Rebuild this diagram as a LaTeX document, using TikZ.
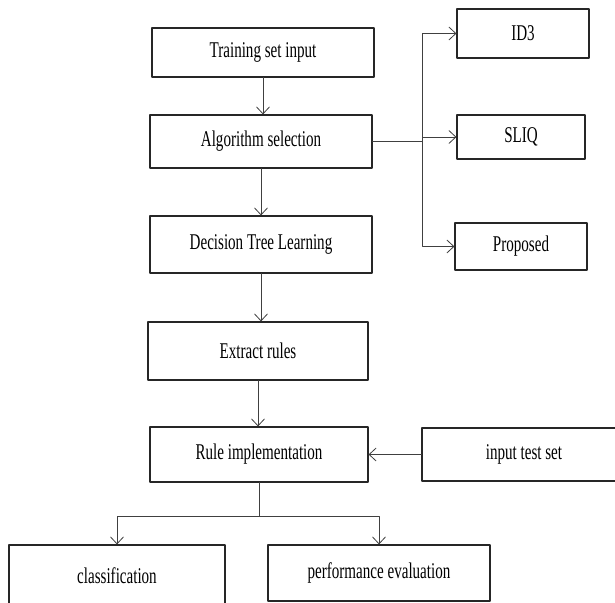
\documentclass[tikz,border=0pt]{standalone}
\usepackage{fontspec}
\setmainfont{Liberation Serif}
\usepackage{graphicx}
\usetikzlibrary{arrows.meta}
\newcommand{\narrow}[1]{\scalebox{0.67}[1]{#1}}

\begin{document}
\begin{tikzpicture}[line cap=round,line join=round,>={Straight Barb[length=7pt,width=13pt]},x=1pt,y=-1pt,
  stage/.style={draw=black!85,line width=1.1pt,rectangle,inner sep=0pt,font=\fontsize{22.5}{24}\selectfont},
  link/.style={draw=black!75,line width=0.8pt},
  flow/.style={link,->}]
\useasboundingbox (0,0) rectangle (615,602);
\clip (0,0) rectangle (615,602);
\node[stage,minimum width=222pt,minimum height=49pt] (train) at (263,52.5) {\narrow{Training set input}};
\node[stage,minimum width=222pt,minimum height=53pt] (algo) at (261,141.5) {\narrow{Algorithm selection}};
\node[stage,minimum width=222pt,minimum height=57pt] (dtl) at (261,244.5) {\narrow{Decision Tree Learning}};
\node[stage,minimum width=220pt,minimum height=58pt] (extract) at (258,351) {\narrow{Extract rules}};
\node[stage,minimum width=218pt,minimum height=55pt] (rule) at (259,454.5) {\narrow{Rule implementation}};
\node[stage,minimum width=204pt,minimum height=53pt] (testset) at (524,454.5) {\narrow{input test set}};
\node[stage,minimum width=132pt,minimum height=49pt] (id3) at (523,33.5) {\narrow{ID3}};
\node[stage,minimum width=128pt,minimum height=44pt] (sliq) at (521,137) {\narrow{SLIQ}};
\node[stage,minimum width=132pt,minimum height=47pt] (proposed) at (521,246.5) {\narrow{Proposed}};
\node[stage,minimum width=216pt,minimum height=61pt] (classif) at (117,575.5) {\narrow{classification}};
\node[stage,minimum width=222pt,minimum height=56pt] (perf) at (379,573) {\narrow{performance evaluation}};
\coordinate (fork) at (422,141.5);
\coordinate (split) at (259,516);
\draw[flow] (train.south) -- (train.south |- algo.north);
\draw[flow] (algo.south) -- (algo.south |- dtl.north);
\draw[flow] (dtl.south) -- (dtl.south |- extract.north);
\draw[flow] (extract.south) -- (extract.south |- rule.north);
\draw[link] (algo.east) -- (fork);
\draw[flow] (fork) |- (id3.west);
\draw[flow] (fork) |- (sliq.west);
\draw[flow] (fork) |- (proposed.west);
\draw[flow] (testset.west) -- (testset.west -| rule.east);
\draw[link] (rule.south) -- (split);
\draw[flow] (split) -| (classif.north);
\draw[flow] (split) -| (perf.north);
\end{tikzpicture}
\end{document}
